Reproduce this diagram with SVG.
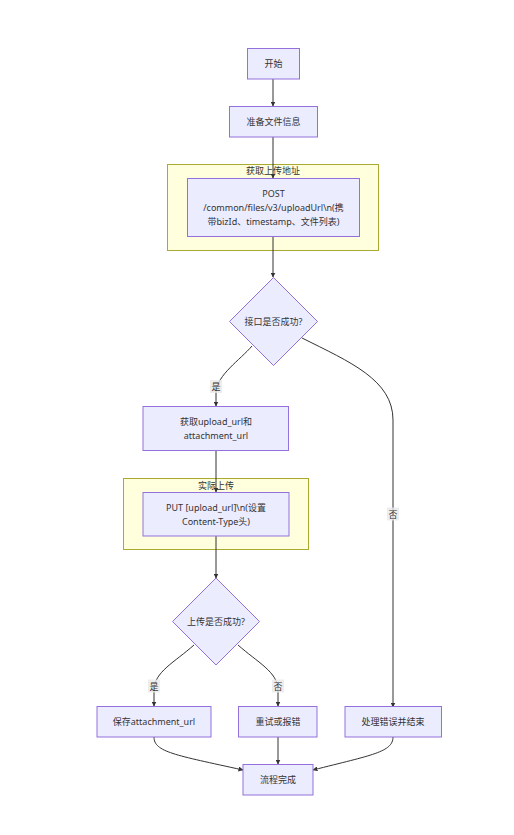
<svg xmlns="http://www.w3.org/2000/svg" width="514" height="835" viewBox="0 0 514 835">
<style>
text{font-family:"Noto Sans","Noto Sans CJK SC",sans-serif;font-size:9px;fill:#333;text-anchor:middle;dominant-baseline:central}
.n{fill:#ECECFF;stroke:#9370DB;stroke-width:1}
.c{fill:#ffffde;stroke:#aaaa33;stroke-width:1}
.e{fill:none;stroke:#333;stroke-width:1;marker-end:url(#arr)}
.lb{fill:#e8e8e8;opacity:0.8}
</style>
<defs>
<marker id="arr" viewBox="0 0 10 10" refX="9" refY="5" markerWidth="5" markerHeight="5" markerUnits="userSpaceOnUse" orient="auto"><path d="M0,0 L10,5 L0,10 z" fill="#333"/></marker>
</defs>
<rect width="514" height="835" fill="#fff"/>
<g id="cluster1"><rect class="c" x="167.5" y="164.5" width="211" height="86"/><text x="273" y="170.5">获取上传地址</text></g>
<g id="cluster2"><rect class="c" x="123.5" y="478.5" width="185" height="71"/><text x="216" y="485">实际上传</text></g>
<g id="edges">
<path class="e" d="M273,79 L273,106"/>
<path class="e" d="M273,137 L273,178"/>
<path class="e" d="M273,237 L273,277"/>
<path class="e" d="M252,346 C240,360 217,375 216,392 L216,406"/>
<path class="e" d="M302,338 C350,362 393,380 393,420 L393,707"/>
<path class="e" d="M216,450 L216,492"/>
<path class="e" d="M216,536 L216,578"/>
<path class="e" d="M194,645 C175,662 154,672 154,690 L154,706"/>
<path class="e" d="M238,645 C257,662 278,672 278,690 L278,706"/>
<path class="e" d="M154,737 C154,752 175,755 243,770"/>
<path class="e" d="M278,737 L278,764"/>
<path class="e" d="M393,737 C393,752 372,755 313,770"/>
<rect class="lb" x="210" y="380" width="12" height="13"/><text x="216" y="386">是</text>
<rect class="lb" x="387" y="507.5" width="12" height="13"/><text x="393" y="514">否</text>
<rect class="lb" x="148" y="679.5" width="12" height="13"/><text x="154" y="686">是</text>
<rect class="lb" x="272" y="679.5" width="12" height="13"/><text x="278" y="686">否</text>
</g>
<g id="start"><rect class="n" x="247.5" y="48.5" width="52" height="30.5"/><text x="273.5" y="63.5">开始</text></g>
<g id="prep"><rect class="n" x="229.5" y="106.5" width="88" height="30.5"/><text x="273.5" y="121.5">准备文件信息</text></g>
<g id="post"><rect class="n" x="187.5" y="178.5" width="172" height="58"/><text x="273.5" y="193.5">POST</text><text x="273.5" y="207.5">/common/files/v3/uploadUrl\n(携</text><text x="273.5" y="221.5">带bizId、timestamp、文件列表)</text></g>
<g id="d1"><path class="n" d="M273.5,277.5 L317.5,321.5 L273.5,365.5 L229.5,321.5 Z"/><text x="273.5" y="321.5">接口是否成功?</text></g>
<g id="geturl"><rect class="n" x="143" y="406.5" width="145.5" height="44"/><text x="216" y="421.5">获取upload_url和</text><text x="216" y="435.5">attachment_url</text></g>
<g id="put"><rect class="n" x="143" y="492.5" width="146" height="43.5"/><text x="216" y="507">PUT [upload_url]\n(设置</text><text x="216" y="521">Content-Type头)</text></g>
<g id="d2"><path class="n" d="M216,578 L259.5,621.5 L216,665 L172.5,621.5 Z"/><text x="216" y="621.5">上传是否成功?</text></g>
<g id="save"><rect class="n" x="97" y="706.5" width="114" height="30.5"/><text x="154" y="721.5">保存attachment_url</text></g>
<g id="retry"><rect class="n" x="238.5" y="706.5" width="78.5" height="30.5"/><text x="278" y="721.5">重试或报错</text></g>
<g id="err"><rect class="n" x="345" y="706.5" width="96.5" height="30.5"/><text x="393" y="721.5">处理错误并结束</text></g>
<g id="done"><rect class="n" x="243" y="764.5" width="70" height="30.5"/><text x="278" y="779.5">流程完成</text></g>
</svg>
